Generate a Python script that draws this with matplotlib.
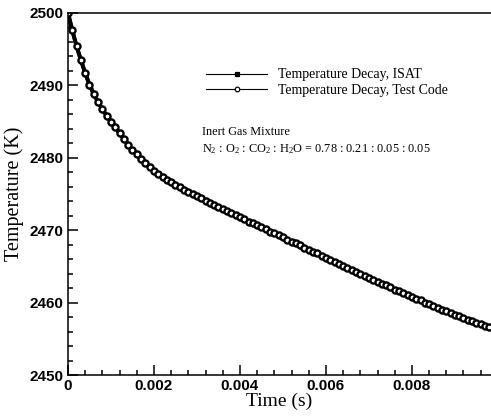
import matplotlib
matplotlib.use("Agg")
import matplotlib.pyplot as plt
from matplotlib.ticker import MultipleLocator, FixedLocator, FuncFormatter

plt.rcParams["mathtext.fontset"] = "custom"
plt.rcParams["mathtext.rm"] = "Liberation Serif"
plt.rcParams["mathtext.it"] = "Liberation Serif:italic"

SERIF = "Liberation Serif"
SANS = "Liberation Sans"

# time in ms, temperature in K
time_ms = [
    0.0, 0.1, 0.2, 0.3, 0.4, 0.5, 0.6, 0.7, 0.8, 0.9,
    1.0, 1.1, 1.2, 1.3, 1.4, 1.5, 1.6, 1.7, 1.8, 1.9,
    2.0, 2.1, 2.2, 2.3, 2.4, 2.5, 2.6, 2.7, 2.8, 2.9,
    3.0, 3.1, 3.2, 3.3, 3.4, 3.5, 3.6, 3.7, 3.8, 3.9,
    4.0, 4.1, 4.2, 4.3, 4.4, 4.5, 4.6, 4.7, 4.8, 4.9,
    5.0, 5.1, 5.2, 5.3, 5.4, 5.5, 5.6, 5.7, 5.8, 5.9,
    6.0, 6.1, 6.2, 6.3, 6.4, 6.5, 6.6, 6.7, 6.8, 6.9,
    7.0, 7.1, 7.2, 7.3, 7.4, 7.5, 7.6, 7.7, 7.8, 7.9,
    8.0, 8.1, 8.2, 8.3, 8.4, 8.5, 8.6, 8.7, 8.8, 8.9,
    9.0, 9.1, 9.2, 9.3, 9.4, 9.5, 9.6, 9.7, 9.8,
]
temp_test = [
    2500.0, 2497.6, 2495.4, 2493.5, 2491.7, 2490.1, 2488.8, 2487.7, 2486.7, 2485.8,
    2485.0, 2484.2, 2483.4, 2482.6, 2481.8, 2481.1, 2480.5, 2479.9, 2479.3, 2478.7,
    2478.2, 2477.8, 2477.4, 2477.0, 2476.6, 2476.3, 2476.0, 2475.6, 2475.3, 2475.0,
    2474.7, 2474.4, 2474.1, 2473.8, 2473.5, 2473.2, 2472.9, 2472.6, 2472.4, 2472.1,
    2471.8, 2471.5, 2471.2, 2471.0, 2470.7, 2470.4, 2470.1, 2469.8, 2469.6, 2469.3,
    2469.0, 2468.7, 2468.4, 2468.2, 2467.9, 2467.6, 2467.3, 2467.0, 2466.8, 2466.5,
    2466.2, 2465.9, 2465.6, 2465.4, 2465.1, 2464.8, 2464.5, 2464.2, 2464.0, 2463.7,
    2463.4, 2463.1, 2462.9, 2462.6, 2462.4, 2462.1, 2461.8, 2461.6, 2461.3, 2461.1,
    2460.8, 2460.5, 2460.3, 2460.0, 2459.8, 2459.5, 2459.3, 2459.0, 2458.8, 2458.5,
    2458.3, 2458.1, 2457.9, 2457.6, 2457.4, 2457.2, 2457.0, 2456.8, 2456.6,
]
# ISAT result sits on top of the test code curve
temp_isat = list(temp_test)

time_s = [t / 1000.0 for t in time_ms]

fig = plt.figure(figsize=(4.91, 4.19), dpi=100)
ax = fig.add_axes([0.1385, 0.105, 0.8615, 0.864])

ax.plot(time_s, temp_isat, color="black", lw=2.8, marker="s", ms=3.5,
        mfc="black", mec="black", label="Temperature Decay, ISAT")
ax.plot(time_s, temp_test, color="black", lw=2.8, marker="o", ms=4.4,
        mfc="white", mec="black", mew=1.7, label="Temperature Decay, Test Code")

ax.set_xlim(0, 0.00984)
ax.set_ylim(2450, 2500)

ax.xaxis.set_major_locator(FixedLocator([0, 0.002, 0.004, 0.006, 0.008]))
ax.xaxis.set_minor_locator(MultipleLocator(0.0004))
ax.yaxis.set_major_locator(MultipleLocator(10))
ax.yaxis.set_minor_locator(MultipleLocator(2))
ax.xaxis.set_major_formatter(FuncFormatter(lambda v, p: "0" if v == 0 else f"{v:.3f}"))
ax.yaxis.set_major_formatter(FuncFormatter(lambda v, p: f"{v:.0f}"))

ax.tick_params(which="both", direction="in", top=False, right=False, width=1.1)
ax.tick_params(which="major", length=7, labelsize=11, pad=3)
ax.tick_params(which="minor", length=3.5)
for lab in ax.get_xticklabels() + ax.get_yticklabels():
    lab.set_fontfamily(SANS)
    lab.set_fontweight("bold")

ax.spines["right"].set_visible(False)
for s in ("left", "bottom", "top"):
    ax.spines[s].set_linewidth(1.1)

ax.set_xlabel("Time (s)", fontfamily=SERIF, fontsize=14, labelpad=0)
ax.set_ylabel("Temperature (K)", fontfamily=SERIF, fontsize=14.5, labelpad=4)

leg = ax.legend(loc="upper left", bbox_to_anchor=(0.31, 0.866), frameon=False,
                prop={"family": SERIF, "size": 10}, handlelength=4.4,
                handletextpad=0.8, labelspacing=0.18, borderpad=0)
for h in leg.get_lines():
    h.set_linewidth(0.8)
    h.set_markeredgewidth(0.9)
    h.set_markersize(3.3)

ax.text(0.316, 0.655, "Inert Gas Mixture", transform=ax.transAxes,
        fontfamily=SERIF, fontsize=8.8, va="bottom")
ax.text(0.316, 0.605,
        r"N$_2$ : O$_2$ : CO$_2$ : H$_2$O = 0.78 : 0.21 : 0.05 : 0.05",
        transform=ax.transAxes, fontfamily=SERIF, fontsize=8.8, va="bottom")

fig.savefig("out.png", dpi=100, facecolor="white")
